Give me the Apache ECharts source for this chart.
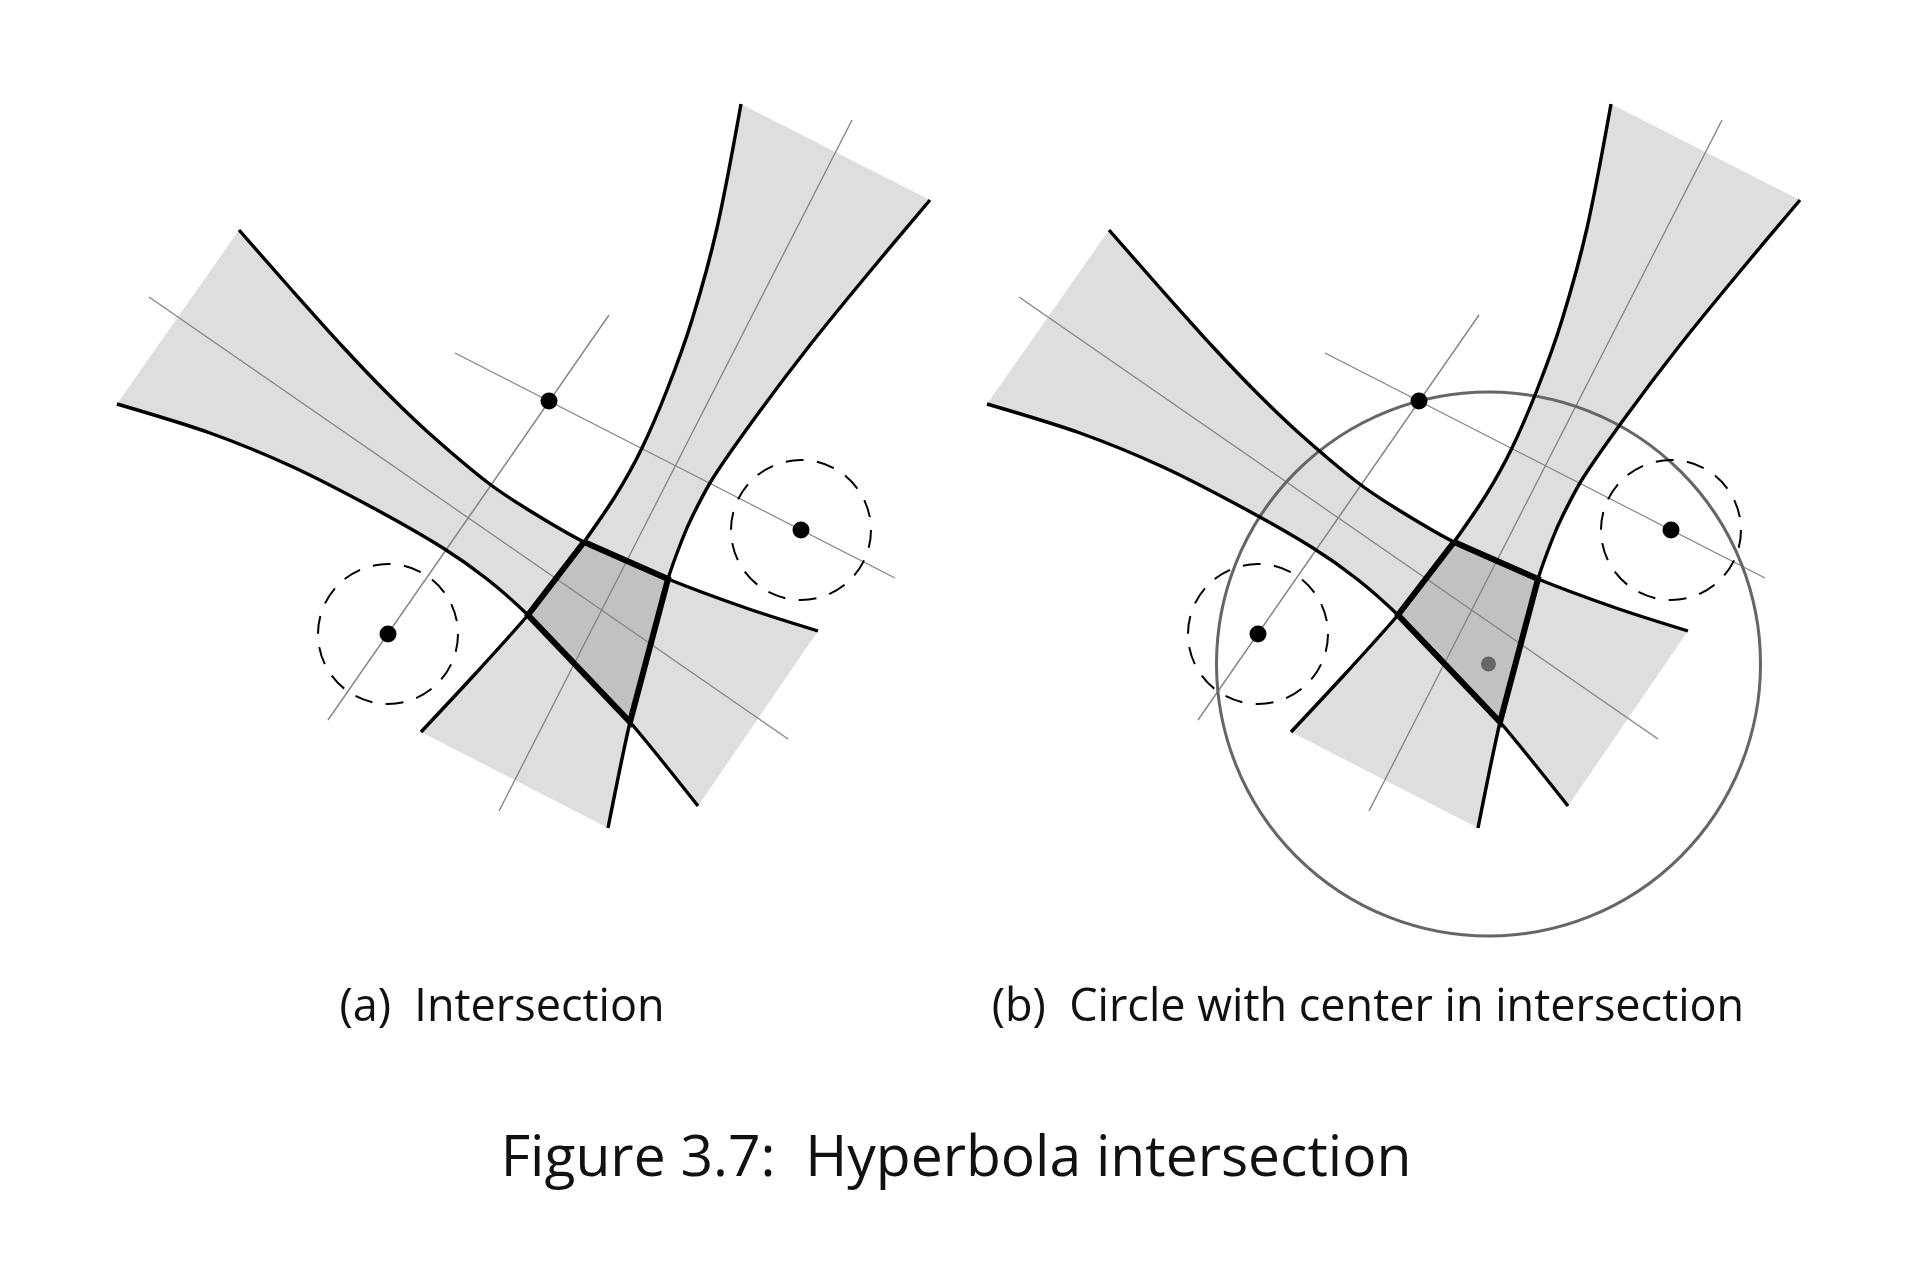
<!DOCTYPE html>
<html>
<head>
<meta charset="utf-8">
<title>Hyperbola intersection</title>
<script src="https://cdn.jsdelivr.net/npm/echarts@6.0.0/dist/echarts.min.js"></script>
<style>
  html, body { margin: 0; padding: 0; background: #fff; }
  #chart { width: 1920px; height: 1280px; }
</style>
</head>
<body>
<div id="chart"></div>
<script>
(function () {
    'use strict';

    var curveA1 = [[239, 230], [290, 288], [343, 347], [387, 393], [430, 434], [487, 482],
                   [527, 509], [584, 542], [668, 579], [746, 608], [818, 631]];
    var curveA2 = [[117, 404], [210, 433], [293, 467], [377, 510], [443, 548], [487, 579],
                   [528, 615], [579, 667], [630, 722], [698, 806]];
    var curveB1 = [[741, 104], [717, 228], [692, 320], [667, 390], [641, 450], [616, 495],
                   [584, 542], [557, 578], [528, 615], [476, 673], [421, 732]];
    var curveB2 = [[930, 200], [867, 275], [810, 345], [757, 415], [713, 478], [693, 515],
                   [682, 540], [668, 579], [649, 650], [630, 722], [608, 828]];
    var quadCorners = [[584, 542], [668, 579], [630, 722], [528, 615], [584, 542]];

    var axisLines = [
        [[149, 297], [788, 739]],
        [[328, 720], [609, 315]],
        [[455, 353], [895, 578]],
        [[852, 120], [499, 811]]
    ];
    var sensors = [[388, 634], [549, 401], [801, 530]];
    var noiseCircles = [[388, 634], [801, 530]];
    var noiseRadius = 70;
    var estimate = [[618.5, 664]];
    var estimateRadius = 272;

    // panel (b) is the same drawing, moved right
    var panelShift = [0, 870];
    var captions = ['(a)  Intersection', '(b)  Circle with center in intersection'];
    var figureTitle = 'Figure 3.7:  Hyperbola intersection';

    var bandA = curveA1.concat(curveA2.slice().reverse());
    var bandB = curveB1.concat(curveB2.slice().reverse());

    function polygonSeries(points, idx) {
        return {
            type: 'custom', xAxisIndex: idx, yAxisIndex: idx, z: 1,
            silent: true, clip: false, data: [[0, 0]],
            renderItem: function (params, api) {
                return {
                    type: 'polygon',
                    shape: { points: points.map(function (p) { return api.coord(p); }) },
                    style: { fill: 'rgba(0,0,0,0.128)', stroke: null }
                };
            }
        };
    }

    function circleSeries(centers, r, style, z, idx) {
        return {
            type: 'custom', xAxisIndex: idx, yAxisIndex: idx, z: z,
            silent: true, clip: false, data: centers,
            renderItem: function (params, api) {
                var c = api.coord([api.value(0), api.value(1)]);
                var rr = api.size([r, 0])[0];
                return {
                    type: 'circle',
                    shape: { cx: c[0], cy: c[1], r: rr },
                    style: Object.assign({ fill: null }, style)
                };
            }
        };
    }

    function lineSeries(data, color, width, smooth, z, idx) {
        return {
            type: 'line', xAxisIndex: idx, yAxisIndex: idx, z: z,
            data: data, symbol: 'none', smooth: smooth, silent: true,
            lineStyle: { color: color, width: width, join: 'miter' }
        };
    }

    function dotSeries(data, color, size, idx) {
        return {
            type: 'scatter', xAxisIndex: idx, yAxisIndex: idx, z: 9,
            data: data, symbolSize: size, silent: true,
            itemStyle: { color: color, opacity: 1 }
        };
    }

    var grids = [], xAxes = [], yAxes = [], series = [];

    panelShift.forEach(function (shift, idx) {
        grids.push({ left: 0, top: 0, width: 1920, height: 1280 });
        xAxes.push({ type: 'value', gridIndex: idx, min: -shift, max: 1920 - shift, show: false });
        yAxes.push({ type: 'value', gridIndex: idx, min: 0, max: 1280, inverse: true, show: false });

        series.push(polygonSeries(bandA, idx));
        series.push(polygonSeries(bandB, idx));
        axisLines.forEach(function (l) {
            series.push(lineSeries(l, '#858585', 1.4, false, 2, idx));
        });
        if (idx === 1) {
            series.push(circleSeries(estimate, estimateRadius,
                { stroke: '#666', lineWidth: 3 }, 3, idx));
        }
        [curveA1, curveA2, curveB1, curveB2].forEach(function (c) {
            series.push(lineSeries(c, '#000', 3.4, 0.3, 4, idx));
        });
        series.push(lineSeries(quadCorners, '#000', 6, false, 5, idx));
        series.push(circleSeries(noiseCircles, noiseRadius,
            { stroke: '#000', lineWidth: 2, lineDash: [18, 13.4] }, 4, idx));
        series.push(dotSeries(sensors, '#000', 17, idx));
        if (idx === 1) {
            series.push(dotSeries(estimate, '#666', 15, idx));
        }
    });

    var font = '"Open Sans", "Noto Sans", sans-serif';
    var option = {
        backgroundColor: '#fff',
        animation: false,
        grid: grids,
        xAxis: xAxes,
        yAxis: yAxes,
        series: series,
        graphic: [
            { type: 'text', x: 502, y: 1008,
              style: { text: captions[0], font: '45px ' + font, fill: '#111',
                       textAlign: 'center', textVerticalAlign: 'middle' } },
            { type: 'text', x: 1368, y: 1008,
              style: { text: captions[1], font: '45px ' + font, fill: '#111',
                       textAlign: 'center', textVerticalAlign: 'middle' } },
            { type: 'text', x: 956, y: 1160,
              style: { text: figureTitle, font: '57px ' + font, fill: '#111',
                       textAlign: 'center', textVerticalAlign: 'middle' } }
        ]
    };

    var chart = echarts.init(document.getElementById('chart'), null, { renderer: 'canvas' });
    chart.setOption(option);
}());
</script>
</body>
</html>
